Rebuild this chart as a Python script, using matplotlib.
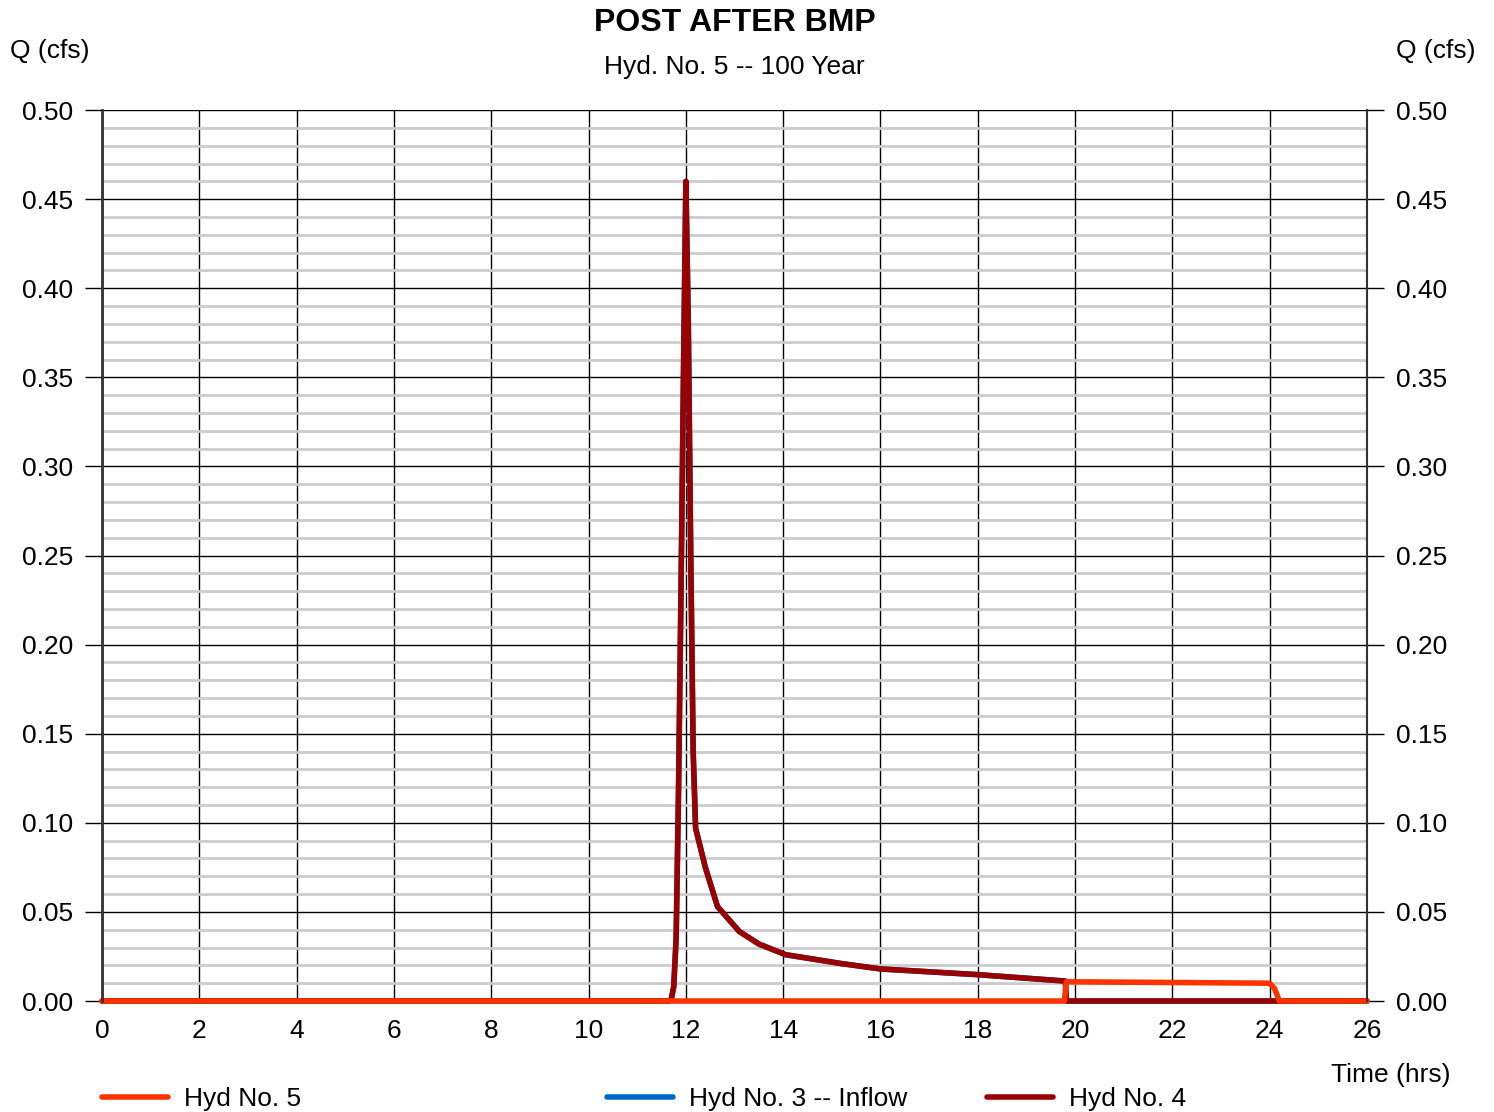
import matplotlib.pyplot as plt
import numpy as np

plt.rcParams['font.family'] = ['Liberation Sans', 'DejaVu Sans']

# hydrograph data (time in hrs, Q in cfs)
t4 = [0, 11.65, 11.7, 11.75, 11.8, 11.85, 11.9, 11.95, 12.0, 12.05, 12.1, 12.15, 12.2,
      12.4, 12.65, 13.1, 13.5, 14.05, 15.2, 16.0, 18.0, 19.8, 19.82, 24.05, 24.2, 26]
q4 = [0, 0, 0.001, 0.008, 0.035, 0.12, 0.23, 0.35, 0.46, 0.38, 0.25, 0.14, 0.097,
      0.075, 0.053, 0.039, 0.032, 0.026, 0.021, 0.018, 0.0148, 0.0112, 0, 0, 0, 0]
t3 = [0, 11.65, 11.7, 11.75, 11.8, 11.85, 11.9, 11.95, 12.0, 12.05, 12.1, 12.15, 12.2,
      12.4, 12.65, 13.1, 13.5, 14.05, 15.2, 16.0, 18.0, 19.8, 19.82, 26]
q3 = [0, 0, 0.001, 0.008, 0.035, 0.12, 0.23, 0.35, 0.46, 0.38, 0.25, 0.14, 0.097,
      0.075, 0.053, 0.039, 0.032, 0.026, 0.021, 0.018, 0.0148, 0.0112, 0, 0]
t5 = [0, 19.78, 19.82, 22.0, 24.0, 24.1, 24.2, 26]
q5 = [0, 0, 0.0108, 0.0104, 0.0100, 0.007, 0, 0]

fig = plt.figure(figsize=(14.94, 11.12), dpi=100)
ax = fig.add_axes([0.0683, 0.0998, 0.8467, 0.8012])

ax.set_xlim(0, 26)
ax.set_ylim(0, 0.5)
ax.set_xticks(np.arange(0, 27, 2))
ax.set_yticks(np.arange(0, 0.51, 0.05))
ax.set_yticks(np.arange(0, 0.501, 0.01), minor=True)
ax.yaxis.set_major_formatter(plt.FormatStrFormatter('%.2f'))
ax.grid(which='minor', axis='y', color='#cccccc', lw=2)
ax.grid(which='major', axis='both', color='black', lw=1.0)
ax.tick_params(axis='y', which='major', length=12, width=1.0, labelsize=19,
               right=True, labelright=True, pad=9)
ax.tick_params(axis='y', which='minor', length=0)
ax.tick_params(axis='x', length=0, labelsize=19, pad=13)
for s in ['top', 'bottom']:
    ax.spines[s].set_visible(False)
ax.spines['left'].set_color('#333333')
ax.spines['left'].set_linewidth(2)
ax.spines['right'].set_color('#333333')
ax.spines['right'].set_linewidth(1.5)
ax.set_axisbelow(True)

l3, = ax.plot(t3, q3, color='#0066cc', lw=4, solid_capstyle='round', clip_on=False)
l4, = ax.plot(t4, q4, color='#990000', lw=4, solid_capstyle='round', clip_on=False)
l5, = ax.plot(t5, q5, color='#ff3300', lw=4, solid_capstyle='round', clip_on=False)

fig.text(0.4916, 0.979, 'POST AFTER BMP', ha='center', va='center', fontsize=23, fontweight='bold')
fig.text(0.4916, 0.940, 'Hyd. No. 5 -- 100 Year', ha='center', va='center', fontsize=19)
fig.text(0.0335, 0.954, 'Q (cfs)', ha='center', va='center', fontsize=19)
fig.text(0.961, 0.954, 'Q (cfs)', ha='center', va='center', fontsize=19)
fig.text(0.971, 0.0335, 'Time (hrs)', ha='right', va='center', fontsize=19)

for h, lab, xpos in [(l5, 'Hyd No. 5', 0.0685), (l3, 'Hyd No. 3 -- Inflow', 0.4065),
                     (l4, 'Hyd No. 4', 0.6605)]:
    fig.legend([h], [lab], loc='center left', bbox_to_anchor=(xpos, 0.0115), frameon=False,
               fontsize=19, handlelength=2.5, handletextpad=0.6, borderaxespad=0,
               borderpad=0)

fig.savefig('out.png', dpi=100)
